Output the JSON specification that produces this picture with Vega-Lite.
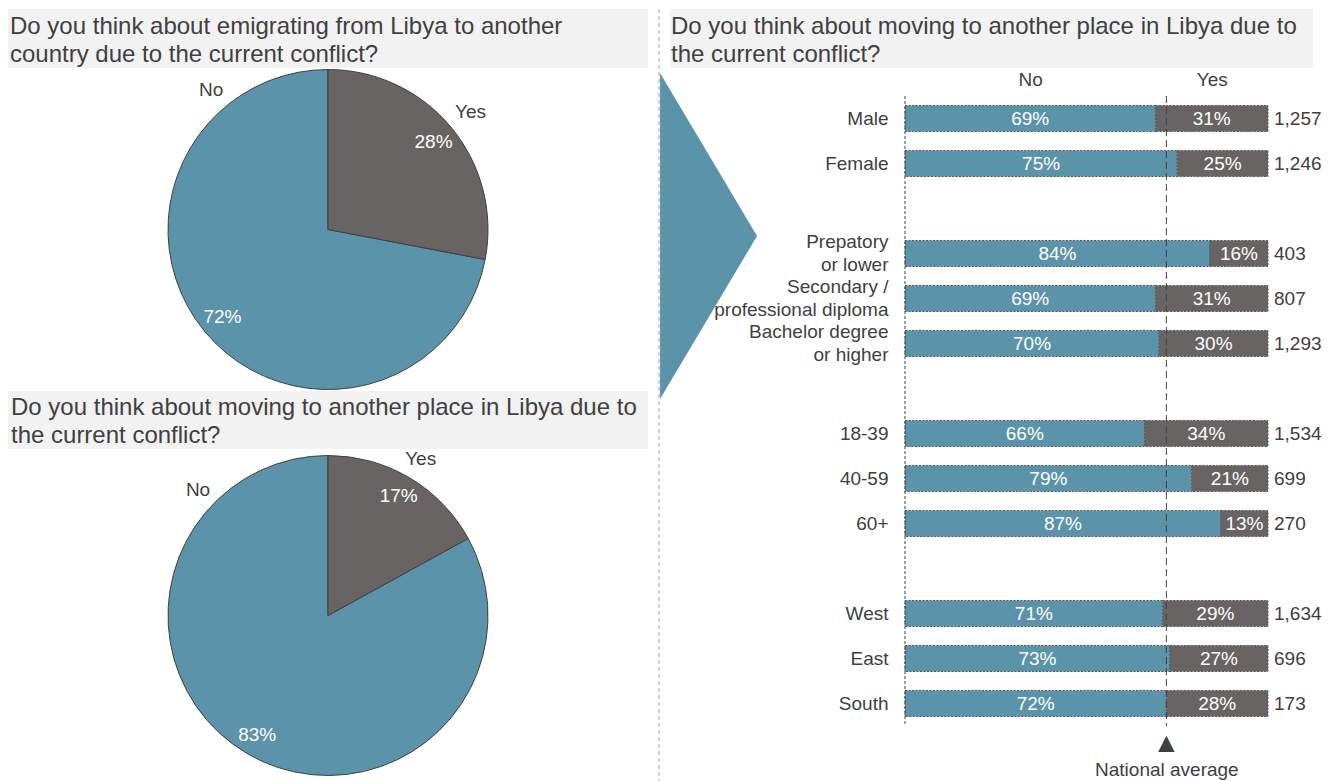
{
  "$schema": "https://vega.github.io/schema/vega-lite/v6.json",
  "background": "white",
  "padding": {"left": 8, "top": 8, "right": 0, "bottom": 0},
  "datasets": {
    "emigrate": [
      {"answer": "No", "share": 0.72},
      {"answer": "Yes", "share": 0.28}
    ],
    "relocate": [
      {"answer": "No", "share": 0.83},
      {"answer": "Yes", "share": 0.17}
    ],
    "breakdown": [
      {"group": "Male", "answer": "No", "share": 0.69},
      {"group": "Male", "answer": "Yes", "share": 0.31},
      {"group": "Female", "answer": "No", "share": 0.75},
      {"group": "Female", "answer": "Yes", "share": 0.25},
      {"group": "Prepatory\nor lower", "answer": "No", "share": 0.84},
      {"group": "Prepatory\nor lower", "answer": "Yes", "share": 0.16},
      {"group": "Secondary /\nprofessional diploma", "answer": "No", "share": 0.69},
      {"group": "Secondary /\nprofessional diploma", "answer": "Yes", "share": 0.31},
      {"group": "Bachelor degree\nor higher", "answer": "No", "share": 0.70},
      {"group": "Bachelor degree\nor higher", "answer": "Yes", "share": 0.30},
      {"group": "18-39", "answer": "No", "share": 0.66},
      {"group": "18-39", "answer": "Yes", "share": 0.34},
      {"group": "40-59", "answer": "No", "share": 0.79},
      {"group": "40-59", "answer": "Yes", "share": 0.21},
      {"group": "60+", "answer": "No", "share": 0.87},
      {"group": "60+", "answer": "Yes", "share": 0.13},
      {"group": "West", "answer": "No", "share": 0.71},
      {"group": "West", "answer": "Yes", "share": 0.29},
      {"group": "East", "answer": "No", "share": 0.73},
      {"group": "East", "answer": "Yes", "share": 0.27},
      {"group": "South", "answer": "No", "share": 0.72},
      {"group": "South", "answer": "Yes", "share": 0.28}
    ],
    "samples": [
      {"group": "Male", "n": 1257},
      {"group": "Female", "n": 1246},
      {"group": "Prepatory\nor lower", "n": 403},
      {"group": "Secondary /\nprofessional diploma", "n": 807},
      {"group": "Bachelor degree\nor higher", "n": 1293},
      {"group": "18-39", "n": 1534},
      {"group": "40-59", "n": 699},
      {"group": "60+", "n": 270},
      {"group": "West", "n": 1634},
      {"group": "East", "n": 696},
      {"group": "South", "n": 173}
    ]
  },
  "spacing": 0,
  "hconcat": [
    {
      "bounds": "flush",
      "spacing": 0,
      "vconcat": [
        {
          "width": 640,
          "height": 59,
          "view": {"fill": "#F2F2F2", "stroke": null},
          "data": {"values": [{}]},
          "mark": {"type": "rect", "color": "#F2F2F2"},
          "encoding": {},
          "title": {
            "text": ["Do you think about emigrating from Libya to another", "country due to the current conflict?"],
            "anchor": "start", "frame": "group", "orient": "top", "offset": -58, "dx": 2,
            "fontSize": 24, "fontWeight": "normal", "color": "#404040", "lineHeight": 28
          }
        },
        {
          "width": 640,
          "height": 323,
          "data": {"name": "emigrate"},
          "layer": [
            {
              "mark": {"type": "arc", "radius": 160, "stroke": "#404040", "strokeWidth": 1},
              "encoding": {
                "theta": {"field": "share", "type": "quantitative", "stack": true, "scale": {"domain": [0, 1]}},
                "color": {"field": "answer", "type": "nominal", "scale": {"domain": ["No", "Yes"], "range": ["#5B93AA", "#686463"]}, "legend": null},
                "order": {"field": "answer", "type": "ordinal", "sort": "descending"}
              }
            },
            {
              "mark": {"type": "text", "radius": 137, "color": "white", "fontSize": 19},
              "encoding": {
                "theta": {"field": "share", "type": "quantitative", "stack": true},
                "detail": {"field": "answer"},
                "order": {"field": "answer", "type": "ordinal", "sort": "descending"},
                "text": {"field": "share", "type": "quantitative", "format": ".0%"}
              }
            },
            {
              "transform": [{"filter": "datum.answer == 'Yes'"}],
              "mark": {"type": "text", "radius": 185, "color": "#404040", "fontSize": 19},
              "encoding": {
                "theta": {"field": "share", "type": "quantitative", "stack": true},
                "text": {"field": "answer"}
              }
            },
            {
              "transform": [{"filter": "datum.answer == 'No'"}],
              "mark": {"type": "text", "radius": 182, "color": "#404040", "fontSize": 19},
              "encoding": {
                "theta": {"datum": 0.889, "type": "quantitative", "stack": null},
                "text": {"field": "answer"}
              }
            }
          ]
        },
        {
          "width": 640,
          "height": 58,
          "view": {"fill": "#F2F2F2", "stroke": null},
          "data": {"values": [{}]},
          "mark": {"type": "rect", "color": "#F2F2F2"},
          "encoding": {},
          "title": {
            "text": ["Do you think about moving to another place in Libya due to", "the current conflict?"],
            "anchor": "start", "frame": "group", "orient": "top", "offset": -57, "dx": 3,
            "fontSize": 24, "fontWeight": "normal", "color": "#404040", "lineHeight": 28
          }
        },
        {
          "width": 640,
          "height": 333,
          "data": {"name": "relocate"},
          "layer": [
            {
              "mark": {"type": "arc", "radius": 160, "stroke": "#404040", "strokeWidth": 1},
              "encoding": {
                "theta": {"field": "share", "type": "quantitative", "stack": true, "scale": {"domain": [0, 1]}},
                "color": {"field": "answer", "type": "nominal", "scale": {"domain": ["No", "Yes"], "range": ["#5B93AA", "#686463"]}, "legend": null},
                "order": {"field": "answer", "type": "ordinal", "sort": "descending"}
              }
            },
            {
              "mark": {"type": "text", "radius": 139, "color": "white", "fontSize": 19},
              "encoding": {
                "theta": {"field": "share", "type": "quantitative", "stack": true},
                "detail": {"field": "answer"},
                "order": {"field": "answer", "type": "ordinal", "sort": "descending"},
                "text": {"field": "share", "type": "quantitative", "format": ".0%"}
              }
            },
            {
              "transform": [{"filter": "datum.answer == 'Yes'"}],
              "mark": {"type": "text", "radius": 182, "color": "#404040", "fontSize": 19},
              "encoding": {
                "theta": {"field": "share", "type": "quantitative", "stack": true},
                "text": {"field": "answer"}
              }
            },
            {
              "transform": [{"filter": "datum.answer == 'No'"}],
              "mark": {"type": "text", "radius": 181, "color": "#404040", "fontSize": 19},
              "encoding": {
                "theta": {"datum": 0.8725, "type": "quantitative", "stack": null},
                "text": {"field": "answer"}
              }
            }
          ]
        }
      ]
    },
    {
      "width": 12,
      "height": 773,
      "view": {"fill": "white", "stroke": null},
      "data": {"values": [{}]},
      "mark": {"type": "rule", "color": "#A6A6A6", "strokeDash": [4, 3], "strokeWidth": 1},
      "encoding": {
        "x": {"datum": 0.9167, "type": "quantitative", "scale": {"domain": [0, 1], "nice": false}, "axis": null}
      }
    },
    {
      "bounds": "flush",
      "spacing": 28,
      "vconcat": [
        {
          "width": 643,
          "height": 59,
          "view": {"fill": "#F2F2F2", "stroke": null},
          "data": {"values": [{}]},
          "mark": {"type": "rect", "color": "#F2F2F2"},
          "encoding": {},
          "title": {
            "text": ["Do you think about moving to another place in Libya due to", "the current conflict?"],
            "anchor": "start", "frame": "group", "orient": "top", "offset": -58, "dx": 1,
            "fontSize": 24, "fontWeight": "normal", "color": "#404040", "lineHeight": 28
          }
        },
        {
          "bounds": "flush",
          "spacing": 148,
          "hconcat": [
            {
              "width": 87,
              "height": 280,
              "data": {"values": [{}]},
              "mark": {"type": "point", "shape": "M-0.328,-1L0.267,0L-0.328,1Z", "size": 106276, "filled": true, "color": "#5B93AA", "opacity": 1, "strokeWidth": 0},
              "encoding": {}
            },
            {
              "width": 363,
              "height": 630,
              "data": {"name": "breakdown"},
              "resolve": {"axis": {"x": "independent"}},
              "layer": [
                {
                  "mark": {"type": "bar", "stroke": "#595959", "strokeWidth": 1, "strokeDash": [2, 1.5]},
                  "encoding": {
                    "y": {
                      "field": "group", "type": "nominal",
                      "scale": {
                        "domain": ["Male", "Female", " ", "Prepatory\nor lower", "Secondary /\nprofessional diploma", "Bachelor degree\nor higher", "  ", "18-39", "40-59", "60+", "   ", "West", "East", "South"],
                        "paddingInner": 0.422, "paddingOuter": 0.211
                      },
                      "axis": {
                        "title": null, "ticks": false, "domain": false, "grid": false,
                        "labelPadding": 17, "labelFontSize": 19, "labelColor": "#404040",
                        "labelLineHeight": 23, "labelLimit": 0,
                        "labelOffset": {"condition": {"test": "indexof(datum.value, '\\n') >= 0", "value": -11.5}, "value": 0},
                        "labelExpr": "split(datum.label, '\\n')"
                      }
                    },
                    "x": {
                      "field": "share", "type": "quantitative", "stack": "zero",
                      "scale": {"domain": [0, 1], "nice": false},
                      "axis": {
                        "orient": "top", "values": [0.345, 0.845],
                        "labelExpr": "datum.value < 0.5 ? 'No' : 'Yes'",
                        "ticks": false, "domain": false, "grid": false, "title": null,
                        "labelPadding": 7, "labelFontSize": 19, "labelColor": "#404040", "labelFlush": false
                      }
                    },
                    "color": {"field": "answer", "type": "nominal", "scale": {"domain": ["No", "Yes"], "range": ["#5B93AA", "#686463"]}, "legend": null},
                    "order": {"field": "answer", "type": "ordinal", "sort": "ascending"}
                  }
                },
                {
                  "data": {"values": [{}]},
                  "mark": {"type": "rule", "color": "#404040", "strokeDash": [3, 2], "strokeWidth": 1},
                  "encoding": {
                    "x": {"datum": 0, "type": "quantitative", "axis": null}
                  }
                },
                {
                  "data": {"values": [{}]},
                  "mark": {"type": "rule", "color": "#404040", "strokeDash": [7, 4], "strokeWidth": 1},
                  "encoding": {
                    "x": {
                      "datum": 0.72, "type": "quantitative",
                      "axis": {
                        "orient": "bottom", "values": [0.72],
                        "labelExpr": "'National average'",
                        "ticks": false, "domain": false, "grid": false, "title": null,
                        "labelPadding": 34, "labelFontSize": 19, "labelColor": "#404040",
                        "labelFlush": false
                      }
                    }
                  }
                },
                {
                  "data": {"values": [{}]},
                  "mark": {"type": "text", "text": "▲", "fontSize": 28, "dy": 40, "color": "#404040", "baseline": "middle"},
                  "encoding": {
                    "x": {"datum": 0.72, "type": "quantitative", "axis": null},
                    "y": {"datum": "South", "type": "nominal"}
                  }
                },
                {
                  "transform": [
                    {"stack": "share", "groupby": ["group"], "sort": [{"field": "answer", "order": "ascending"}], "as": ["s0", "s1"]},
                    {"fold": ["s0", "s1"], "as": ["edge", "pos"]}
                  ],
                  "mark": {"type": "text", "color": "white", "fontSize": 19, "baseline": "middle"},
                  "encoding": {
                    "y": {"field": "group", "type": "nominal"},
                    "detail": {"field": "answer"},
                    "x": {"aggregate": "mean", "field": "pos", "type": "quantitative", "stack": null, "axis": null},
                    "text": {"aggregate": "max", "field": "share", "type": "quantitative", "format": ".0%"}
                  }
                },
                {
                  "data": {"name": "samples"},
                  "mark": {"type": "text", "align": "left", "dx": 6, "color": "#404040", "fontSize": 19, "baseline": "middle"},
                  "encoding": {
                    "y": {"field": "group", "type": "nominal"},
                    "x": {"datum": 1, "type": "quantitative", "axis": null},
                    "text": {"field": "n", "type": "quantitative", "format": ","}
                  }
                }
              ]
            }
          ]
        }
      ]
    }
  ],
  "config": {
    "font": "Liberation Sans",
    "view": {"stroke": null}
  }
}
